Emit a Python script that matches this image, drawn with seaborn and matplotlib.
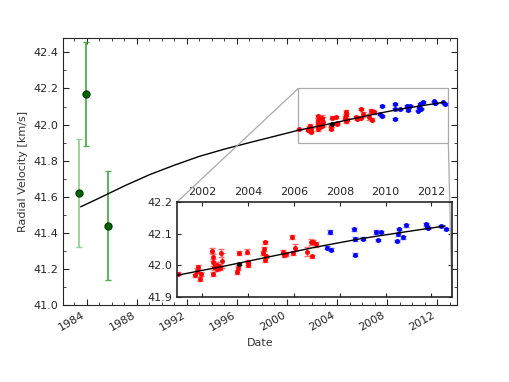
import pandas as pd
import seaborn as sns
import matplotlib.pyplot as plt
from matplotlib.ticker import MultipleLocator
from mpl_toolkits.axes_grid1.inset_locator import mark_inset


# Old photographic velocities (green)
old_date = [1983.4, 1983.9, 1985.65]
old_rv = [41.62, 42.17, 41.44]
old_err = [0.30, 0.29, 0.30]
old_ecol = ['#90d490', '#4cb04c', '#4cb04c']

# First instrument (red)
red_date = [2000.94, 2001.68, 2001.75, 2001.81, 2001.90, 2001.93, 2002.44, 2002.47, 2002.47,
            2002.47, 2002.51, 2002.62, 2002.66, 2002.74, 2002.78, 2002.81, 2002.85, 2003.50,
            2003.54, 2003.59, 2003.94, 2003.99, 2003.99, 2004.65, 2004.68, 2004.72, 2004.74,
            2004.76, 2005.53, 2005.57, 2005.65, 2005.90, 2005.94, 2006.04, 2006.56, 2006.74,
            2006.78, 2006.85, 2006.97]
red_rv = [41.973, 41.968, 41.983, 41.994, 41.957, 41.973, 42.046, 42.025, 42.009,
          41.973, 41.994, 42.001, 41.989, 41.997, 41.991, 42.039, 42.015, 41.978,
          41.991, 42.039, 42.043, 42.009, 42.001, 42.039, 42.051, 42.072, 42.018,
          42.028, 42.041, 42.032, 42.035, 42.088, 42.039, 42.056, 42.043, 42.074,
          42.028, 42.072, 42.067]
red_err = [0.005, 0.006, 0.008, 0.007, 0.005, 0.006, 0.008, 0.010, 0.012,
           0.006, 0.010, 0.008, 0.007, 0.008, 0.006, 0.012, 0.025, 0.007,
           0.006, 0.006, 0.007, 0.008, 0.006, 0.007, 0.006, 0.006, 0.008,
           0.006, 0.006, 0.006, 0.006, 0.006, 0.005, 0.012, 0.015, 0.010,
           0.006, 0.008, 0.008]

# Single black measurement
blk_date = [2003.62]
blk_rv = [42.004]
blk_err = [0.004]

# Second instrument (blue)
blue_date = [2007.44, 2007.56, 2007.62, 2008.62, 2008.65, 2008.65, 2009.03, 2009.57, 2009.68,
             2009.82, 2010.50, 2010.53, 2010.60, 2010.75, 2010.90, 2011.78, 2011.81, 2011.85,
             2012.44, 2012.66]
blue_rv = [42.056, 42.105, 42.049, 42.114, 42.084, 42.033, 42.084, 42.105, 42.080,
           42.105, 42.077, 42.098, 42.114, 42.088, 42.126, 42.129, 42.122, 42.117,
           42.124, 42.114]
blue_err = [0.004, 0.005, 0.005, 0.005, 0.006, 0.005, 0.004, 0.006, 0.004,
            0.004, 0.003, 0.005, 0.004, 0.004, 0.004, 0.004, 0.004, 0.004,
            0.003, 0.004]

# Orbit fit
fit_date = [1983.5, 1985.0, 1987.0, 1989.0, 1991.0, 1993.0, 1995.0, 1997.0, 1999.0,
            2001.0, 2003.0, 2005.0, 2007.0, 2009.0, 2011.0, 2012.6]
fit_rv = [41.544, 41.593, 41.660, 41.722, 41.775, 41.824, 41.864, 41.900, 41.935,
          41.970, 41.998, 42.028, 42.058, 42.085, 42.107, 42.124]

fit = pd.DataFrame({'date': fit_date, 'rv': fit_rv})


def draw_recent(ax):
    ax.errorbar(red_date, red_rv, yerr=red_err, fmt='o', ms=2.5, color='red',
                ecolor='#ff6a6a', elinewidth=1, capsize=2)
    ax.errorbar(blue_date, blue_rv, yerr=blue_err, fmt='o', ms=2.5, color='blue',
                ecolor='#6a6aff', elinewidth=1, capsize=2)
    ax.errorbar(blk_date, blk_rv, yerr=blk_err, fmt='o', ms=2.5, color='black',
                ecolor='gray', elinewidth=1, capsize=2)
    sns.lineplot(data=fit, x='date', y='rv', color='black', lw=1, sort=False,
                 estimator=None, ax=ax, zorder=5)


sns.set_style('ticks', {'xtick.direction': 'in', 'ytick.direction': 'in'})
plt.rcParams['font.family'] = ['DejaVu Sans']

fig = plt.figure(figsize=(5.09, 3.82), dpi=100)
ax = fig.add_axes([0.124, 0.2016, 0.774, 0.699])

for d, v, e, c in zip(old_date, old_rv, old_err, old_ecol):
    ax.errorbar([d], [v], yerr=[e], fmt='o', ms=5, color='#006400', mec='#004000',
                ecolor=c, elinewidth=1.3, capsize=2.5)
draw_recent(ax)

ax.set_xlim(1982.1, 2013.6)
ax.set_ylim(41.0, 42.48)
ax.xaxis.set_major_locator(MultipleLocator(4))
ax.xaxis.set_minor_locator(MultipleLocator(1))
ax.yaxis.set_major_locator(MultipleLocator(0.2))
ax.yaxis.set_minor_locator(MultipleLocator(0.1))
ax.tick_params(which='both', top=True, right=True, labelsize=8)
ax.tick_params(which='major', length=4)
ax.tick_params(which='minor', length=2)
ax.yaxis.set_major_formatter(plt.FormatStrFormatter('%.1f'))
plt.setp(ax.get_xticklabels(), rotation=30, ha='right')
ax.set_xlabel('Date', fontsize=8, color='#333333')
ax.set_ylabel('Radial Velocity [km/s]', fontsize=8, color='#333333')

# Inset
axin = fig.add_axes([0.348, 0.2225, 0.540, 0.249])
draw_recent(axin)
axin.set_xlim(2000.9, 2012.9)
axin.set_ylim(41.9, 42.2)
axin.xaxis.set_major_locator(MultipleLocator(2))
axin.yaxis.set_major_locator(MultipleLocator(0.1))
axin.yaxis.set_major_formatter(plt.FormatStrFormatter('%.1f'))
axin.tick_params(which='both', top=True, bottom=True, right=True,
                 labeltop=True, labelbottom=False, labelsize=8, length=3)
axin.set_xlabel('')
axin.set_ylabel('')
for s in axin.spines.values():
    s.set_linewidth(1.2)

mark_inset(ax, axin, loc1=2, loc2=4, fc='none', ec='#aaaaaa', lw=0.9)

plt.savefig('out.png', dpi=100)
plt.close()
